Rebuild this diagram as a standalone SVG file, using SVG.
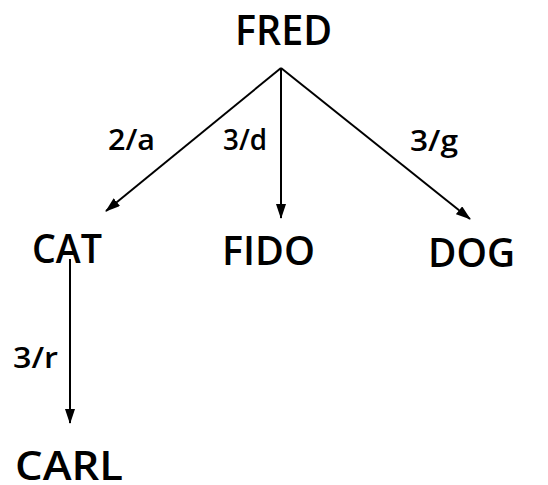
<svg xmlns="http://www.w3.org/2000/svg" width="548" height="485" viewBox="0 0 548 485">
  <style>
    .node { font-family: "Open Sans", "Liberation Sans", sans-serif; font-weight: 600; fill: #000; }
    .edge-label { font-family: "Open Sans", "Liberation Sans", sans-serif; font-weight: 600; font-size: 29px; fill: #000; }
    .edge { stroke: #000; stroke-width: 2; fill: none; marker-end: url(#arrow); }
  </style>
  <defs>
    <marker id="arrow" viewBox="0 0 15 10" refX="14" refY="5" markerWidth="15" markerHeight="10" markerUnits="userSpaceOnUse" orient="auto">
      <path d="M0,0 L15,5 L0,10 Z" fill="#000"/>
    </marker>
  </defs>
  <rect width="548" height="485" fill="#fff"/>

  <g id="connectors">
    <line class="edge" x1="281" y1="68" x2="106" y2="211"/>
    <line class="edge" x1="281" y1="68" x2="281" y2="218"/>
    <line class="edge" x1="281" y1="68" x2="470" y2="219"/>
    <line class="edge" x1="70" y1="259" x2="70" y2="423"/>
    <text class="edge-label" x="108" y="150" textLength="47" lengthAdjust="spacingAndGlyphs">2/a</text>
    <text class="edge-label" x="223" y="150" textLength="44" lengthAdjust="spacingAndGlyphs">3/d</text>
    <text class="edge-label" x="410" y="151" textLength="48" lengthAdjust="spacingAndGlyphs">3/g</text>
    <text class="edge-label" x="13" y="368" textLength="45" lengthAdjust="spacingAndGlyphs">3/r</text>
  </g>

  <g id="fred"><text class="node" x="235" y="45" font-size="42" textLength="97" lengthAdjust="spacingAndGlyphs">FRED</text></g>
  <g id="cat"><text class="node" x="32" y="263" font-size="39" textLength="70" lengthAdjust="spacingAndGlyphs">CAT</text></g>
  <g id="fido"><text class="node" x="222" y="265" font-size="39" textLength="93" lengthAdjust="spacingAndGlyphs">FIDO</text></g>
  <g id="dog"><text class="node" x="428" y="267" font-size="40" textLength="87" lengthAdjust="spacingAndGlyphs">DOG</text></g>
  <g id="carl"><text class="node" x="15" y="480" font-size="40" textLength="108" lengthAdjust="spacingAndGlyphs">CARL</text></g>
</svg>
